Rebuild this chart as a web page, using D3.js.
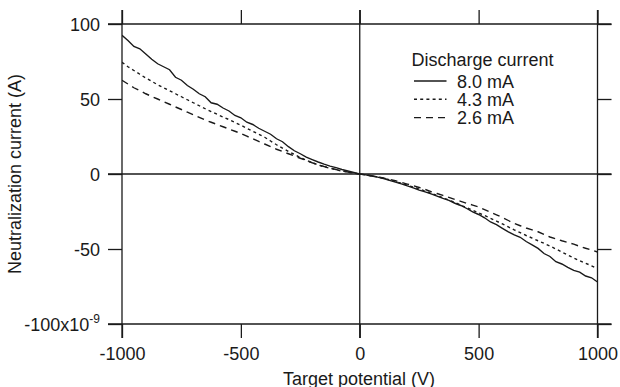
<!DOCTYPE html>
<html><head><meta charset="utf-8">
<script src="https://cdn.jsdelivr.net/npm/d3@7"></script>
<style>
html,body{margin:0;padding:0;background:#fff;}
svg text{font-family:"Liberation Sans",Arial,Helvetica,sans-serif;fill:#1a1a1a;}
</style></head>
<body>
<svg id="c" width="620" height="387"></svg>
<script>
// ---- data ----
const potentials = [-1000,-975,-950,-925,-900,-875,-850,-825,-800,-775,-750,-725,-700,-675,-650,-625,-600,-575,-550,-525,-500,-475,-450,-425,-400,-375,-350,-325,-300,-275,-250,-225,-200,-175,-150,-125,-100,-75,-50,-25,0,25,50,75,100,125,150,175,200,225,250,275,300,325,350,375,400,425,450,475,500,525,550,575,600,625,650,675,700,725,750,775,800,825,850,875,900,925,950,975,1000];
const current80 = [92.5,89,85,83.5,80,76.5,73.5,71.5,69.5,64.5,62.5,59,56.5,53.5,51.5,47.5,46.5,44,42,39,37.5,34.5,33,30.5,28.5,26.5,23.5,21.5,18.2,15.5,13.5,11.2,9.6,8,6.6,5.3,4.2,3,2,1,0,-0.6,-1.3,-2.1,-3,-4.2,-5.4,-6.6,-7.9,-9.3,-10.7,-11.9,-13.3,-14.7,-16.2,-17.6,-19.5,-21,-23,-25.2,-27,-29.2,-32,-33.8,-36.2,-38.6,-40.6,-42.2,-45,-47.2,-49.6,-53,-55,-58.5,-60,-62.2,-64.2,-65.4,-68,-69.2,-72];
const current43 = [74.5,71.5,69,66.5,64,61.8,59.5,57.5,55.5,53.5,51.5,49.5,47.5,45.5,43.5,41.6,39.8,38,36.3,34.4,32.5,30.5,28.5,26.5,24.5,22,19.5,17.2,15,13,11,9.2,7.5,6.1,4.8,3.8,2.8,2,1.2,0.6,0,-0.6,-1.2,-2,-2.8,-3.9,-5,-6.2,-7.5,-8.7,-10,-11.4,-12.8,-14.3,-15.8,-17.4,-19,-20.8,-22.5,-24.2,-26,-27.7,-29.5,-31.4,-33.3,-35.3,-37.3,-39.1,-41,-42.7,-44.5,-46.2,-48,-50,-52,-54,-56,-57.8,-59.5,-61.2,-63];
const current26 = [62.5,60,57.5,55.5,53.5,51.7,50,48.2,46.5,44.7,43,41.2,39.5,37.7,36,34.5,33,31.5,30,28.5,27,25.2,23.5,21.7,20,18.2,16.5,15,13.5,12,10.5,9,7.5,6.2,5,4,3,2.1,1.3,0.6,0,-0.6,-1.2,-1.9,-2.7,-3.6,-4.5,-5.6,-6.7,-7.8,-9,-10.3,-11.7,-13,-14.3,-15.6,-17,-18.2,-19.5,-20.7,-22,-23.7,-25.5,-27.2,-29,-31,-33,-34.5,-36,-37.2,-38.5,-40.2,-42,-43.2,-44.5,-45.6,-46.8,-48.2,-49.5,-50.7,-52];
const seriesNames = ["8.0 mA","4.3 mA","2.6 mA"];
const seriesValues = [current80, current43, current26];
const seriesDash = [null, "3,3.2", "7,5"];
const xTicks = [-1000,-500,0,500,1000];
const yTicks = [-100,-50,0,50,100];
const xTitle = "Target potential (V)";
const yTitle = "Neutralization current (A)";
const legendTitle = "Discharge current";

// ---- layout ----
const svg = d3.select("#c");
const L = 122, R = 597.5, T = 24, B = 324, ext = 14;
const x = d3.scaleLinear().domain([-1000,1000]).range([L,R]);
const y = d3.scaleLinear().domain([-100,100]).range([B,T]);
const ink = "#1a1a1a", sw = 1.3;
const fmt = d => String(d);

// frame + zero lines (extended)
const frame = svg.append("g").attr("stroke",ink).attr("stroke-width",sw).attr("fill","none");
[y(100), y(-100), y(0)].forEach(v => frame.append("line").attr("x1",L-ext).attr("x2",R+ext).attr("y1",v).attr("y2",v));
[x(-1000), x(1000), x(0)].forEach(v => frame.append("line").attr("y1",T-ext).attr("y2",B+ext).attr("x1",v).attr("x2",v));

function styleAxis(g){
  g.select(".domain").remove();
  g.selectAll(".tick line").attr("stroke",ink).attr("stroke-width",sw);
  g.selectAll(".tick text").attr("font-size",18).attr("fill",ink);
}
// bottom axis
const gB = svg.append("g").attr("transform",`translate(0,${B})`)
  .call(d3.axisBottom(x).tickValues(xTicks).tickSize(ext).tickSizeOuter(0).tickFormat(fmt));
styleAxis(gB);
gB.selectAll(".tick text").attr("y",36).attr("dy",0);
// top axis
const gT = svg.append("g").attr("transform",`translate(0,${T})`)
  .call(d3.axisTop(x).tickValues(xTicks).tickSize(ext).tickSizeOuter(0).tickFormat(""));
styleAxis(gT);
// left axis
const gL = svg.append("g").attr("transform",`translate(${L},0)`)
  .call(d3.axisLeft(y).tickValues(yTicks).tickSize(ext).tickSizeOuter(0).tickFormat(d => d === -100 ? "" : fmt(d)));
styleAxis(gL);
gL.selectAll(".tick text").attr("x",-22).attr("dy","0.35em");
gL.selectAll(".tick").filter(d => d === -100).select("text").each(function(){
  const t = d3.select(this);
  t.append("tspan").text("-100x10");
  t.append("tspan").attr("font-size",12).attr("dy",-7.5).text("-9");
});
// right axis
const gR = svg.append("g").attr("transform",`translate(${R},0)`)
  .call(d3.axisRight(y).tickValues(yTicks).tickSize(ext).tickSizeOuter(0).tickFormat(""));
styleAxis(gR);

// clip
svg.append("clipPath").attr("id","clip").append("rect").attr("x",L).attr("y",T).attr("width",R-L).attr("height",B-T);

const line = d3.line().x((d,i) => x(potentials[i])).y(d => y(d));
seriesValues.forEach((vals,k) => {
  svg.append("path").attr("clip-path","url(#clip)")
    .attr("d", line(vals)).attr("fill","none").attr("stroke",ink)
    .attr("stroke-width",1.4).attr("stroke-dasharray",seriesDash[k]);
});

// legend
const lg = svg.append("g");
lg.append("text").attr("x",411.5).attr("y",66).attr("font-size",18).text(legendTitle);
seriesNames.forEach((n,k) => {
  const by = 87.5 + k*18.3;
  lg.append("line").attr("x1",414).attr("x2",446.5).attr("y1",by-6.5).attr("y2",by-6.5)
    .attr("stroke",ink).attr("stroke-width",1.4).attr("stroke-dasharray",seriesDash[k]);
  lg.append("text").attr("x",457).attr("y",by).attr("font-size",18).text(n);
});

// axis titles
svg.append("text").attr("x",359).attr("y",384.5).attr("text-anchor","middle").attr("font-size",18).text(xTitle);
svg.append("text").attr("transform",`translate(21,${y(0)}) rotate(-90)`).attr("text-anchor","middle").attr("font-size",18).text(yTitle);
</script>
</body></html>
